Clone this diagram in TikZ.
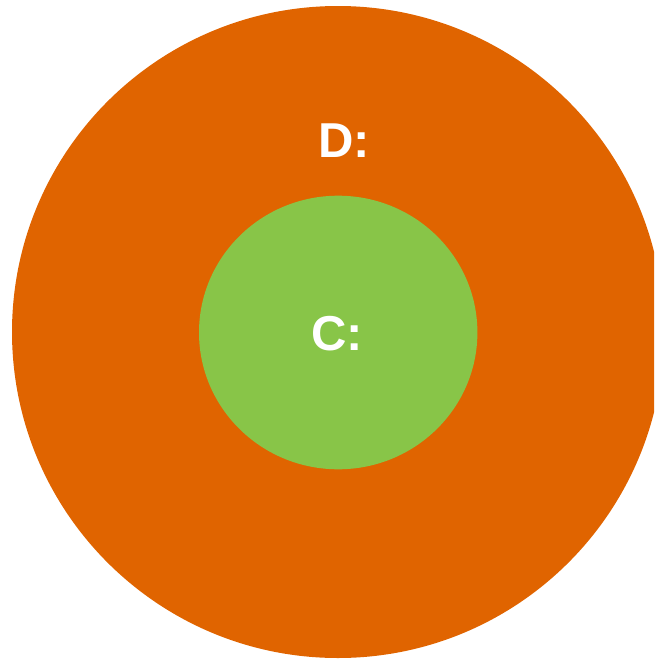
\documentclass[tikz,border=0pt]{standalone}
\usepackage{fontspec}
\setmainfont{Liberation Sans}
\definecolor{outerorange}{HTML}{E06400}
\definecolor{innergreen}{HTML}{88C548}
\begin{document}
\begin{tikzpicture}[x=1pt,y=-1pt,
  lbl/.style={text=white,font=\fontsize{49}{49}\selectfont\bfseries,inner sep=0pt}]
\useasboundingbox (0,0) rectangle (654,659);
\clip (0,0) rectangle (654,659);
\fill[outerorange] (338,332) ellipse [x radius=326, y radius=326];
\fill[innergreen] (338.2,332.5) ellipse [x radius=139.2, y radius=136.8];
\node[lbl] (d) at (344,140.5) {D:};
\node[lbl] (c) at (337,334) {C:};
\end{tikzpicture}
\end{document}
